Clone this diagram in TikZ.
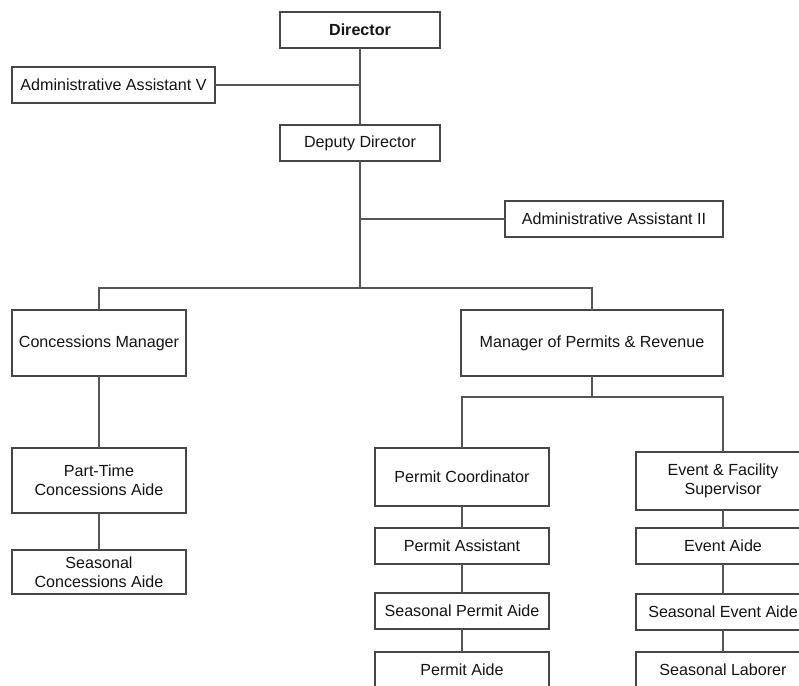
\documentclass[tikz,border=0pt]{standalone}
\usepackage{fontspec}
\setmainfont{Liberation Sans}
\usepackage{tikz}
\usetikzlibrary{positioning,calc}
\definecolor{ink}{RGB}{20,20,20}
\definecolor{frame}{RGB}{70,70,70}
\definecolor{wire}{RGB}{85,85,85}
\tikzset{
  post/.style={draw=frame, line width=1.3pt, fill=white, align=center, outer sep=0pt, inner sep=2pt, minimum width=#1, minimum height=36pt, text=ink, font=\fontsize{16.1}{19}\selectfont},
  post/.default={174pt},
  tall/.style={minimum height=#1},
  link/.style={draw=wire, line width=1.6pt}
}

\begin{document}
\begin{tikzpicture}[x=1pt, y=-1pt]
    \useasboundingbox (0,0) rectangle (799,685);
    \clip (0,0) rectangle (799,685);
    \node[post=160pt] (dir) at (360,30) {\textbf{Director}};
    \node[post=203pt] (aav) at (113.5,85) {Administrative Assistant V};
    \node[post=160pt] (dep) at (360,143) {Deputy Director};
    \node[post=218pt] (aa2) at (614,219) {Administrative Assistant II};
    \node[post, tall=66pt] (cm) at (99,343) {Concessions Manager};
    \node[post=262pt, tall=66pt] (mpr) at (592,343) {Manager of Permits \& Revenue};
    \node[post, tall=65pt] (ptc) at (99,480.5) {Part-Time\\ Concessions Aide};
    \node[post, tall=44pt] (scc) at (99,572) {Seasonal\\ Concessions Aide};
    \node[post, tall=58pt] (pc) at (462,477) {Permit Coordinator};
    \node[post, tall=58pt] (efs) at (723,481) {Event \& Facility\\ Supervisor};
    \node[post] (pa) at (462,546) {Permit Assistant};
    \node[post] (spa) at (462,611) {Seasonal Permit Aide};
    \node[post] (pad) at (462,670) {Permit Aide};
    \node[post] (ea) at (723,546) {Event Aide};
    \node[post] (sea) at (723,612) {Seasonal Event Aide};
    \node[post] (sl) at (723,670) {Seasonal Laborer};
    \coordinate (split) at (360,288);
    \coordinate (psplit) at (592,397);
    \draw[link] (dir) -- (dep);
    \draw[link] (aav.east) -- (aav.east -| dir.south);
    \draw[link] (aa2.west) -- (aa2.west -| dep.south);
    \draw[link] (dep) -- (split);
    \draw[link] (cm.north) |- (split) -| (mpr.north);
    \draw[link] (mpr) -- (psplit);
    \draw[link] (pc.north) |- (psplit) -| (efs.north);
    \foreach \a/\b in {cm/ptc,ptc/scc,pc/pa,pa/spa,spa/pad,efs/ea,ea/sea,sea/sl} \draw[link] (\a) -- (\b);
  \end{tikzpicture}
\end{document}
